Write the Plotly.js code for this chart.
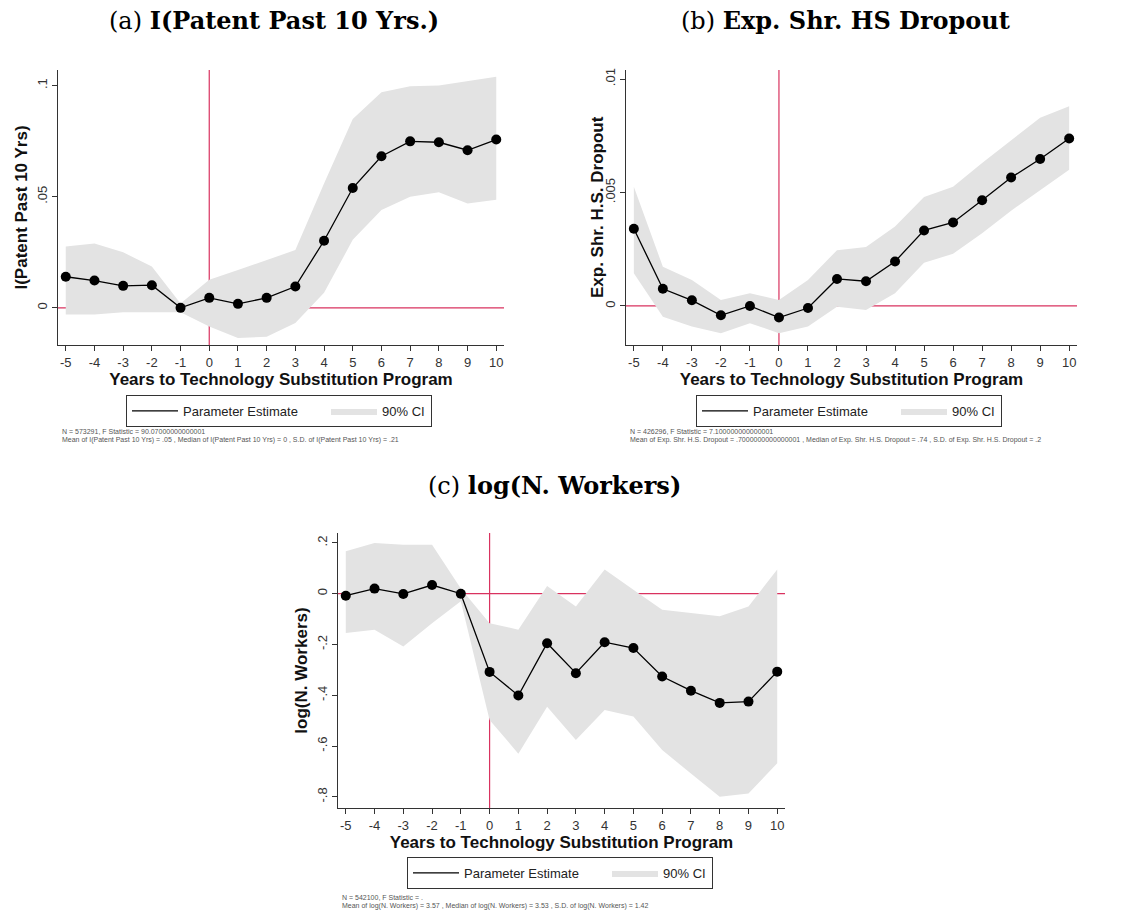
<!DOCTYPE html>
<html>
<head>
<meta charset="utf-8">
<script src="https://cdn.plot.ly/plotly-3.0.1.min.js"></script>
<style>html,body{margin:0;padding:0;background:#fff;}#chart{width:1130px;height:915px;}</style>
</head>
<body>
<div id="chart"></div>
<script>
// ---- data ----
const years = [-5,-4,-3,-2,-1,0,1,2,3,4,5,6,7,8,9,10];
const xTickText = ['-5','-4','-3','-2','-1','0','1','2','3','4','5','6','7','8','9','10'];

const patentEst = [0.0140,0.0123,0.0099,0.0102,0.0000,0.0045,0.0018,0.0045,0.0096,0.0302,0.0539,0.0682,0.0749,0.0745,0.0709,0.0757];
const patentHi  = [0.0276,0.0290,0.0250,0.0186,0.0020,0.0126,0.0170,0.0216,0.0260,0.0560,0.0850,0.0970,0.0997,0.1000,0.1020,0.1040];
const patentLo  = [-0.0030,-0.0030,-0.0020,-0.0020,-0.0020,-0.0084,-0.0135,-0.0130,-0.0068,0.0068,0.0306,0.0440,0.0500,0.0520,0.0470,0.0486];
const patentTickVals = [0, 0.05, 0.1];
const patentTickText = ['0', '.05', '.1'];

const dropoutEst = [0.00340,0.00076,0.00025,-0.00041,0.00000,-0.00051,-0.00009,0.00119,0.00109,0.00196,0.00333,0.00368,0.00466,0.00566,0.00648,0.00738];
const dropoutHi  = [0.00525,0.00173,0.00114,0.00026,0.00056,0.00026,0.00114,0.00246,0.00260,0.00350,0.00480,0.00525,0.00630,0.00730,0.00830,0.00880];
const dropoutLo  = [0.00144,-0.00047,-0.00090,-0.00120,-0.00076,-0.00120,-0.00090,-0.00003,-0.00018,0.00056,0.00190,0.00230,0.00320,0.00420,0.00510,0.00600];
const dropoutTickVals = [0, 0.005, 0.01];
const dropoutTickText = ['0', '.005', '.01'];

const workersEst = [-0.008,0.020,-0.001,0.034,0.000,-0.308,-0.401,-0.195,-0.313,-0.191,-0.214,-0.326,-0.382,-0.430,-0.425,-0.307];
const workersHi  = [0.167,0.200,0.193,0.193,0.020,-0.116,-0.142,0.030,-0.050,0.095,0.016,-0.063,-0.076,-0.089,-0.050,0.095];
const workersLo  = [-0.155,-0.142,-0.208,-0.116,-0.030,-0.497,-0.630,-0.445,-0.576,-0.458,-0.484,-0.616,-0.708,-0.800,-0.787,-0.668];
const workersTickVals = [-0.8,-0.6,-0.4,-0.2,0,0.2];
const workersTickText = ['-.8','-.6','-.4','-.2','0','.2'];

const panelTitles = ['(a) <b>I(Patent Past 10 Yrs.)</b>', '(b) <b>Exp. Shr. HS Dropout</b>', '(c) <b>log(N. Workers)</b>'];
const yTitles = ['I(Patent Past 10 Yrs)', 'Exp. Shr. H.S. Dropout', 'log(N. Workers)'];
const xTitle = 'Years to Technology Substitution Program';
const notes = [
  ['N = 573291, F Statistic = 90.07000000000001',
   'Mean of I(Patent Past 10 Yrs) = .05 , Median of I(Patent Past 10 Yrs) = 0 , S.D. of I(Patent Past 10 Yrs) = .21'],
  ['N = 426296, F Statistic = 7.100000000000001',
   'Mean of Exp. Shr. H.S. Dropout = .7000000000000001 , Median of Exp. Shr. H.S. Dropout = .74 , S.D. of Exp. Shr. H.S. Dropout = .2'],
  ['N = 542100, F Statistic = .',
   'Mean of log(N. Workers) = 3.57 , Median of log(N. Workers) = 3.53 , S.D. of log(N. Workers) = 1.42']
];

// ---- styling ----
const W = 1130, H = 915;
const px = v => v / W;
const py = v => 1 - v / H;
const BAND = '#e3e3e3';
const RED = '#d9325f';
const SANS = 'Liberation Sans, Arial, sans-serif';
const SERIF = 'DejaVu Serif, serif';

function panelTraces(est, lo, hi, xa, ya, leg) {
  return [
    {x: years, y: lo, xaxis: xa, yaxis: ya, mode: 'lines', line: {width: 0, color: BAND},
     showlegend: false, hoverinfo: 'skip'},
    {x: years, y: hi, xaxis: xa, yaxis: ya, mode: 'lines', line: {width: 0, color: BAND},
     fill: 'tonexty', fillcolor: BAND, name: '90% CI', legend: leg, legendrank: 2,
     legendwidth: 44, hoverinfo: 'skip'},
    {x: years, y: est, xaxis: xa, yaxis: ya, mode: 'lines', line: {width: 1.3, color: '#000'},
     name: 'Parameter Estimate', legend: leg, legendrank: 1, legendwidth: 138, hoverinfo: 'skip'},
    {x: years, y: est, xaxis: xa, yaxis: ya, mode: 'markers', marker: {size: 10, color: '#000'},
     showlegend: false, hoverinfo: 'skip'}
  ];
}

const data = [].concat(
  panelTraces(patentEst, patentLo, patentHi, 'x', 'y', 'legend'),
  panelTraces(dropoutEst, dropoutLo, dropoutHi, 'x2', 'y2', 'legend2'),
  panelTraces(workersEst, workersLo, workersHi, 'x3', 'y3', 'legend3')
);

function xAxis(domain, anchor) {
  return {
    domain: domain, anchor: anchor, range: [-5.27, 10.27],
    tickvals: years, ticktext: xTickText, ticks: 'outside', ticklen: 5, tickwidth: 1, tickcolor: '#333',
    showline: true, linecolor: '#333', linewidth: 1, showgrid: false, zeroline: false,
    tickfont: {family: SANS, size: 13, color: '#333'},
    title: {text: '<b>' + xTitle + '</b>', font: {family: SANS, size: 17, color: '#111'}, standoff: 3},
    fixedrange: true
  };
}
function yAxis(domain, anchor, range, vals, text, title) {
  const ax = {
    domain: domain, anchor: anchor, range: range,
    tickvals: vals, ticktext: text, tickangle: -90, ticks: 'outside', ticklen: 5, tickwidth: 1, tickcolor: '#333',
    showline: true, linecolor: '#333', linewidth: 1, showgrid: false, zeroline: false,
    tickfont: {family: SANS, size: 13, color: '#333'},
    fixedrange: true
  };
  if (title) ax.title = {text: '<b>' + title + '</b>', font: {family: SANS, size: 17, color: '#111'}, standoff: 2};
  return ax;
}

const yDomTop = [py(345), py(70)];
const yDomBot = [py(808), py(533)];

function legendBox(x, y) {
  return {
    x: px(x), y: py(y), xanchor: 'left', yanchor: 'top', orientation: 'h',
    bordercolor: '#333', borderwidth: 1, bgcolor: '#fff', itemwidth: 46,
    font: {family: SANS, size: 13, color: '#222'}, traceorder: 'normal'
  };
}

function refLines(xr, yr) {
  return [
    {type: 'line', layer: 'below', xref: xr, yref: yr + ' domain', x0: 0, x1: 0, y0: 0, y1: 1,
     line: {color: RED, width: 1.2}},
    {type: 'line', layer: 'below', xref: xr + ' domain', yref: yr, x0: 0, x1: 1, y0: 0, y1: 0,
     line: {color: RED, width: 1.2}}
  ];
}

function paperText(text, x, y, font, extra) {
  return Object.assign({text: text, x: px(x), y: py(y), xref: 'paper', yref: 'paper',
    xanchor: 'center', yanchor: 'middle', showarrow: false, font: font}, extra || {});
}

const titleFont = {family: SERIF, size: 24, color: '#000'};
const annotations = [
  paperText(panelTitles[0], 274, 20, titleFont),
  paperText(panelTitles[1], 845, 20, titleFont),
  paperText(panelTitles[2], 554, 486, titleFont),
  paperText('<b>' + yTitles[1] + '</b>', 598, 207, {family: SANS, size: 17, color: '#111'}, {textangle: -90})
];
const noteSpots = [[60, 431], [628, 431], [340, 897]];
notes.forEach((lines, i) => {
  lines.forEach((t, j) => {
    annotations.push(paperText(t, noteSpots[i][0], noteSpots[i][1] + j * 8.5,
      {family: SANS, size: 7, color: '#555'}, {xanchor: 'left'}));
  });
});

const layout = {
  width: W, height: H, margin: {l: 0, r: 0, t: 0, b: 0},
  paper_bgcolor: '#fff', plot_bgcolor: '#fff', hovermode: false,
  xaxis: xAxis([px(58), px(504)], 'y'),
  yaxis: yAxis(yDomTop, 'x', [-0.0167, 0.107], patentTickVals, patentTickText, yTitles[0]),
  xaxis2: xAxis([px(626), px(1077)], 'y2'),
  yaxis2: yAxis(yDomTop, 'x2', [-0.00172, 0.0104], dropoutTickVals, dropoutTickText, null),
  xaxis3: xAxis([px(338), px(785)], 'y3'),
  yaxis3: yAxis(yDomBot, 'x3', [-0.844, 0.239], workersTickVals, workersTickText, yTitles[2]),
  legend: legendBox(126, 395),
  legend2: legendBox(696, 395),
  legend3: legendBox(407, 857),
  shapes: [].concat(refLines('x', 'y'), refLines('x2', 'y2'), refLines('x3', 'y3')),
  annotations: annotations
};

Plotly.newPlot('chart', data, layout, {staticPlot: true, displayModeBar: false});
</script>
</body>
</html>
